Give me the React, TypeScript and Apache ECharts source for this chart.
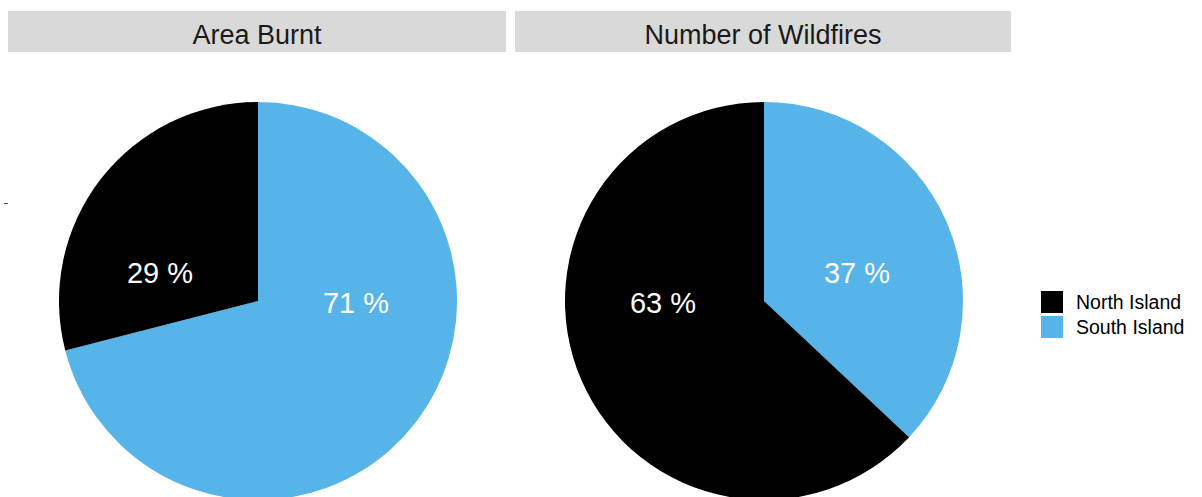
import React, { useEffect, useRef } from "react";
import * as echarts from "echarts";

// ---- data ----
const panels = ["Area Burnt", "Number of Wildfires"];
const islands = ["South Island", "North Island"]; // clockwise order from 12 o'clock
const legendOrder = ["North Island", "South Island"];
const areaBurnt = [71, 29];
const numberOfWildfires = [37, 63];
const islandColors: Record<string, string> = {
  "North Island": "#000000",
  "South Island": "#56B4E9",
};

// ---- layout ----
const FONT = "'Liberation Sans', Arial, Helvetica, sans-serif";
const pieCenters: [number, number][] = [
  [258, 301],
  [764, 301],
];
const pieRadius = 199;
const strips = [
  { x: 8, w: 498 },
  { x: 515, w: 496 },
];
// label positions (relative to pie centre) per panel, per island order
const labelOffsets: [number, number][][] = [
  [
    [98, 2],
    [-98, -28],
  ],
  [
    [93, -28],
    [-101, 2],
  ],
];

export default function App() {
  const ref = useRef<HTMLDivElement>(null);
  useEffect(() => {
    document.body.style.margin = "0";
    if (!ref.current) return;
    const chart = echarts.init(ref.current, null, { renderer: "svg" });
    const seriesValues = [areaBurnt, numberOfWildfires];

    const series: any[] = seriesValues.map((vals, i) => ({
      type: "pie",
      name: panels[i],
      center: pieCenters[i],
      radius: [0, pieRadius],
      startAngle: 90,
      clockwise: true,
      silent: true,
      label: { show: false },
      labelLine: { show: false },
      emphasis: { disabled: true },
      itemStyle: { borderWidth: 0 },
      data: islands.map((name, k) => ({
        name,
        value: vals[k],
        itemStyle: { color: islandColors[name] },
      })),
    }));

    const graphics: any[] = [];
    strips.forEach((s, i) => {
      graphics.push({
        type: "rect",
        shape: { x: s.x, y: 11, width: s.w, height: 41 },
        style: { fill: "#D9D9D9" },
        silent: true,
      });
      graphics.push({
        type: "text",
        x: s.x + s.w / 2,
        y: 35,
        style: {
          text: panels[i],
          fill: "#1A1A1A",
          font: `27px ${FONT}`,
          textAlign: "center",
          textVerticalAlign: "middle",
        },
        silent: true,
      });
    });
    seriesValues.forEach((vals, i) => {
      vals.forEach((v, k) => {
        const [dx, dy] = labelOffsets[i][k];
        graphics.push({
          type: "text",
          x: pieCenters[i][0] + dx,
          y: pieCenters[i][1] + dy,
          z: 10,
          style: {
            text: `${v} %`,
            fill: "#FFFFFF",
            font: `29px ${FONT}`,
            textAlign: "center",
            textVerticalAlign: "middle",
          },
          silent: true,
        });
      });
    });
    graphics.push({
      type: "line",
      shape: { x1: 4, y1: 203.5, x2: 8, y2: 203.5 },
      style: { stroke: "#555555", lineWidth: 1 },
      silent: true,
    });

    chart.setOption({
      animation: false,
      backgroundColor: "#FFFFFF",
      legend: {
        data: legendOrder,
        orient: "vertical",
        left: 1036,
        top: 286,
        itemWidth: 22,
        itemHeight: 22,
        itemGap: 3,
        icon: "rect",
        selectedMode: false,
        textStyle: {
          fontFamily: FONT,
          fontSize: 19.5,
          color: "#000000",
          padding: [0, 0, 0, 8],
        },
      },
      series,
      graphic: graphics,
    });
    return () => chart.dispose();
  }, []);
  return <div ref={ref} style={{ width: 1202, height: 497 }} />;
}
